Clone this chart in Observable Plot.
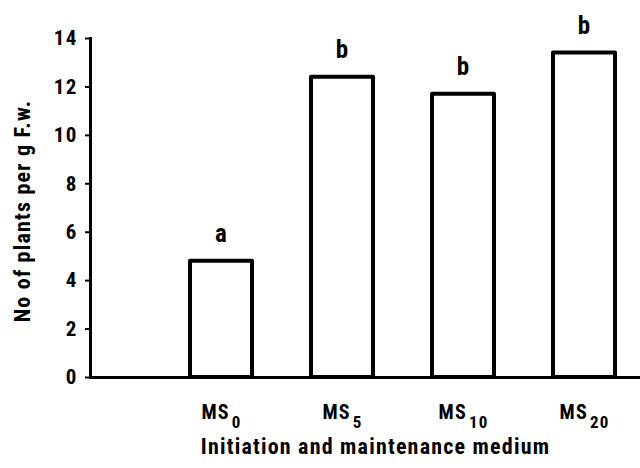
<!DOCTYPE html>
<html><head><meta charset="utf-8">
<script src="https://cdn.jsdelivr.net/npm/d3@7"></script>
<script src="https://cdn.jsdelivr.net/npm/@observablehq/plot@0.6"></script>
<style>
body{margin:0;background:#fff}
#chart svg{font-family:Roboto,"Liberation Sans",sans-serif;font-stretch:condensed;font-weight:bold;letter-spacing:1.2px}
</style>
</head><body><div id="chart"></div>
<script>
const media = ["MS0", "MS5", "MS10", "MS20"];
const mediumBase = ["MS", "MS", "MS", "MS"];
const mediumSub = ["0", "5", "10", "20"];
const plantsPerG = [4.8, 12.4, 11.7, 13.4];
const letters = ["a", "b", "b", "b"];
const yTicks = [0, 2, 4, 6, 8, 10, 12, 14];
const xTitle = "Initiation and maintenance medium";
const yTitle = "No of plants per g F.w.";

const data = media.map((m, i) => ({medium: m, value: plantsPerG[i], letter: letters[i]}));

const chart = Plot.plot({
  width: 640, height: 468,
  marginLeft: 90, marginRight: 0, marginTop: 38, marginBottom: 91,
  style: {fontFamily: "Roboto, 'Liberation Sans', sans-serif", fontSize: "20px", fontWeight: "bold", background: "white", color: "black"},
  x: {domain: media, paddingInner: 0.49, paddingOuter: 0.5, align: 0.8},
  y: {domain: [0, 14]},
  marks: [
    Plot.barY(data, {x: "medium", y: "value", fill: "white", stroke: "black", strokeWidth: 4, strokeLinejoin: "round"}),
    Plot.text(data, {x: "medium", y: "value", text: "letter", dy: -27, fontSize: 25, fontWeight: "bold", fill: "black"}),
    Plot.ruleY([0], {strokeWidth: 3, stroke: "black"}),
    Plot.frame({anchor: "left", strokeWidth: 3, stroke: "black"}),
    Plot.axisY({ticks: yTicks, tickSize: 5, tickPadding: 8, tickFormat: d => String(d), label: null, fontSize: 21, strokeWidth: 2}),
    Plot.axisX({tickSize: 0, tickPadding: 27, label: null, fontSize: 20}),
    Plot.text([xTitle], {frameAnchor: "bottom", dy: 76, dx: 10, fontSize: 22, fontWeight: "bold", fill: "black"}),
    Plot.text([yTitle], {frameAnchor: "left", textAnchor: "middle", rotate: -90, dx: -68, dy: 3, fontSize: 22, fontWeight: "bold", fill: "black"})
  ]
});

// render subscripts for medium labels
d3.select(chart).selectAll('g[aria-label="x-axis tick label"] text').each(function() {
  const t = d3.select(this);
  const i = media.indexOf(t.text());
  if (i < 0) return;
  t.text(null);
  t.append("tspan").text(mediumBase[i]);
  t.append("tspan").attr("dx", "2").attr("dy", "9").attr("font-size", "17").text(mediumSub[i]);
});

document.getElementById("chart").appendChild(chart);
</script>
</body></html>
